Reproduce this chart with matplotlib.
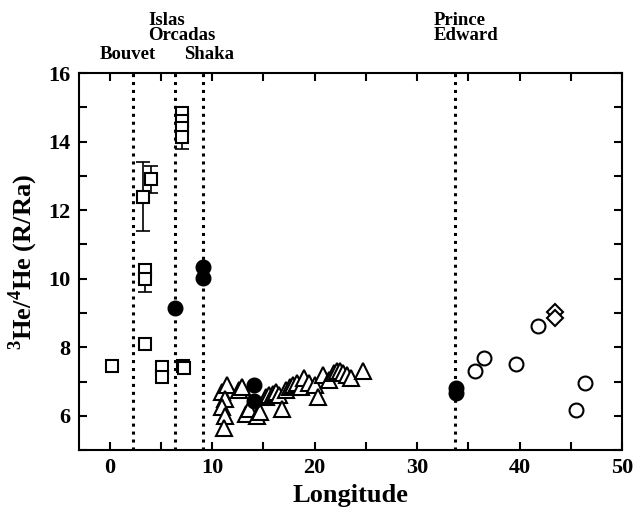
import matplotlib

matplotlib.use("Agg")
import matplotlib.pyplot as plt
from matplotlib.ticker import MultipleLocator

plt.rcParams.update({
    "font.family": "Liberation Serif",
    "font.weight": "bold",
    "mathtext.fontset": "custom",
    "mathtext.rm": "Liberation Serif:bold",
    "axes.linewidth": 1.5,
})

# --- data ---
# Bouvet (open squares)
sq_x = [0.2, 3.5, 3.45, 3.45, 3.3, 4.0, 5.1, 5.1, 7.2, 7.3, 7.1, 7.1, 7.1, 7.1]
sq_y = [7.45, 8.1, 10.25, 10.0, 12.4, 12.9, 7.43, 7.14, 7.46, 7.4, 14.85, 14.6, 14.4, 14.15]
# error bars on a few squares: (x, y, lower, upper)
err_x = [3.3, 4.0, 3.45, 7.1]
err_y = [12.4, 12.9, 10.0, 14.15]
err_lo = [1.0, 0.4, 0.4, 0.35]
err_hi = [1.0, 0.4, 0.0, 0.0]

# filled circles
fc_x = [6.4, 9.1, 9.1, 14.1, 14.1, 33.8, 33.8]
fc_y = [9.15, 10.35, 10.02, 6.9, 6.42, 6.8, 6.68]

# open triangles
tri_x = [11.0, 11.5, 11.3, 11.0, 11.3, 11.2, 12.6, 12.9, 13.3, 13.6, 14.4, 14.7,
         15.3, 15.6, 15.9, 16.2, 16.5, 16.8, 17.2, 17.6, 17.9, 18.3, 18.7, 19.0,
         19.5, 20.0, 20.3, 20.8, 21.4, 21.9, 22.2, 22.5, 22.8, 23.2, 23.5, 24.7]
tri_y = [6.7, 6.9, 6.5, 6.25, 6.0, 5.65, 6.75, 6.85, 6.05, 6.2, 6.0, 6.1,
         6.55, 6.6, 6.65, 6.7, 6.6, 6.2, 6.75, 6.85, 6.9, 6.95, 6.85, 7.1,
         6.95, 6.9, 6.55, 7.2, 7.05, 7.25, 7.3, 7.3, 7.25, 7.2, 7.1, 7.3]

# open circles
oc_x = [35.6, 36.5, 39.6, 41.8, 46.4, 45.5]
oc_y = [7.3, 7.7, 7.52, 8.62, 6.97, 6.17]

# open diamonds
dia_x = [43.4, 43.4]
dia_y = [9.03, 8.85]

# hotspot longitudes
hs_x = [2.3, 6.4, 9.1, 33.7]

fig = plt.figure(figsize=(6.35, 5.15), dpi=100)
ax = fig.add_axes([0.124, 0.126, 0.856, 0.732])

for x in hs_x:
    ax.axvline(x, color="black", ls=(0, (1, 1.6)), lw=2.2, zorder=1)

mk = dict(mfc="white", mec="black", mew=1.5, ls="", zorder=3)
ax.errorbar(err_x, err_y, yerr=[err_lo, err_hi], fmt="none", ecolor="black",
            elinewidth=1.2, capsize=5, capthick=1.2, zorder=2)
ax.plot(sq_x, sq_y, marker="s", ms=9, **mk)
ax.plot(tri_x, tri_y, marker="^", ms=11, **mk)
ax.plot(oc_x, oc_y, marker="o", ms=10, **mk)
ax.plot(dia_x, dia_y, marker="D", ms=8, **mk)
ax.plot(fc_x, fc_y, marker="o", ms=10.5, mfc="black", mec="black", ls="", zorder=4)

ax.set_xlim(-3, 50)
ax.set_ylim(5, 16)
ax.xaxis.set_major_locator(MultipleLocator(10))
ax.xaxis.set_minor_locator(MultipleLocator(5))
ax.yaxis.set_major_locator(MultipleLocator(2))
ax.yaxis.set_minor_locator(MultipleLocator(1))
ax.tick_params(which="both", direction="in", top=True, right=True,
               length=6, width=1.5, labelsize=16, pad=6)

ax.set_xlabel("Longitude", fontsize=19, fontweight="bold", labelpad=4)
ax.set_ylabel(r"${}^{3}$He/${}^{4}$He (R/Ra)", fontsize=19, fontweight="bold", labelpad=6)

# hotspot labels above the frame
ax.text(1.8, 16.3, "Bouvet", ha="center", va="bottom", fontsize=13.5)
ax.text(3.8, 16.85, "Islas\nOrcadas", ha="left", va="bottom", fontsize=13.5,
        linespacing=0.85)
ax.text(9.7, 16.3, "Shaka", ha="center", va="bottom", fontsize=13.5)
ax.text(31.6, 16.85, "Prince\nEdward", ha="left", va="bottom", fontsize=13.5,
        linespacing=0.85)

fig.savefig("out.png", dpi=100)
